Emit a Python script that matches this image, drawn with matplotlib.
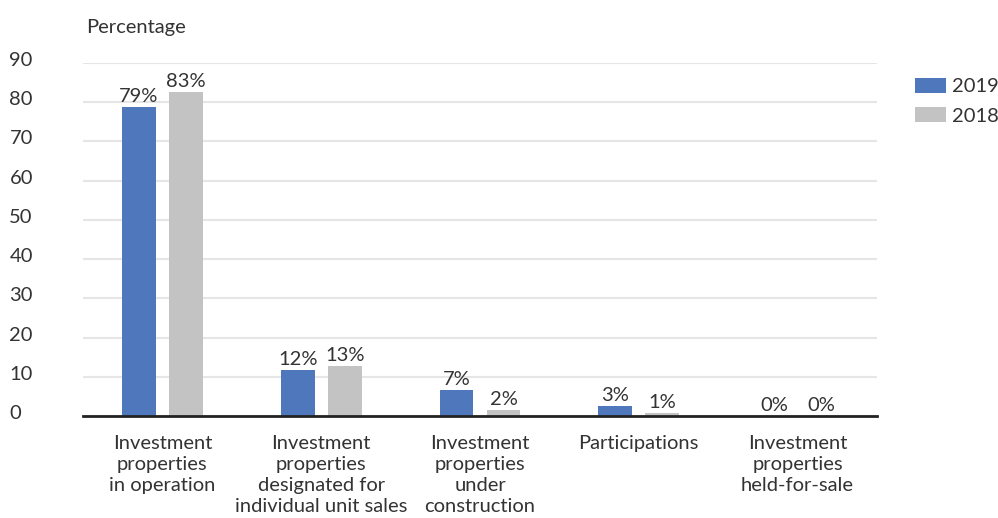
import matplotlib.pyplot as plt
import matplotlib.transforms as mtransforms
import numpy as np

plt.rcParams['font.family'] = ['Lato', 'DejaVu Sans']

categories = ["Investment\nproperties\nin operation",
              "Investment\nproperties\ndesignated for\nindividual unit sales",
              "Investment\nproperties\nunder\nconstruction",
              "Participations",
              "Investment\nproperties\nheld-for-sale"]
vals_2019 = [78.8, 11.7, 6.6, 2.6, 0.0]
vals_2018 = [82.7, 12.7, 1.5, 0.8, 0.0]
yticks = [0, 10, 20, 30, 40, 50, 60, 70, 80, 90]

blue = '#4F78BC'
grey = '#C3C3C3'
txt = '#333333'
fs = 14.5

fig = plt.figure(figsize=(9.98, 5.18), dpi=100)
ax = fig.add_axes([83/998, 1-416/518, 794/998, 353/518])

x = np.arange(len(categories))
w = 0.214
off = 0.148
b1 = ax.bar(x - off, vals_2019, w, color=blue, label='2019', zorder=3)
b2 = ax.bar(x + off, vals_2018, w, color=grey, label='2018', zorder=3)

for bars, vals in [(b1, vals_2019), (b2, vals_2018)]:
    for b, v in zip(bars, vals):
        ax.text(b.get_x() + b.get_width()/2, v + 0.5, '%.0f%%' % v,
                ha='center', va='bottom', fontsize=fs, color=txt)

ax.set_xlim(-0.5, len(categories) - 0.5)
ax.set_ylim(0, 90)
ax.set_yticks(yticks)
ax.set_xticks(x)
ax.set_xticklabels(categories, fontsize=fs, color=txt, linespacing=1.27)
ax.tick_params(axis='x', length=0, pad=14)
ax.tick_params(axis='y', length=0, pad=53, labelsize=fs, labelcolor=txt)
up = mtransforms.ScaledTranslation(0, 4/100, fig.dpi_scale_trans)
for lbl in ax.get_yticklabels():
    lbl.set_ha('left')
    lbl.set_transform(lbl.get_transform() + up)

ax.grid(axis='y', color='#E6E6E6', linewidth=1.5, zorder=0)
for s in ['top', 'right', 'left']:
    ax.spines[s].set_visible(False)
ax.spines['bottom'].set_color('#222222')
ax.spines['bottom'].set_linewidth(2)
ax.spines['bottom'].set_zorder(4)

fig.text(86/998, 1-27/518, 'Percentage', fontsize=fs, color=txt, va='center', ha='left')

fig.legend(handles=[b1, b2], loc='upper left', bbox_to_anchor=(915/998, 1-78/518),
           frameon=False, fontsize=fs, handlelength=1.55, handleheight=0.75,
           handletextpad=0.3, labelspacing=0.6, borderpad=0, borderaxespad=0,
           labelcolor=txt)

fig.savefig('out.png', dpi=100)
